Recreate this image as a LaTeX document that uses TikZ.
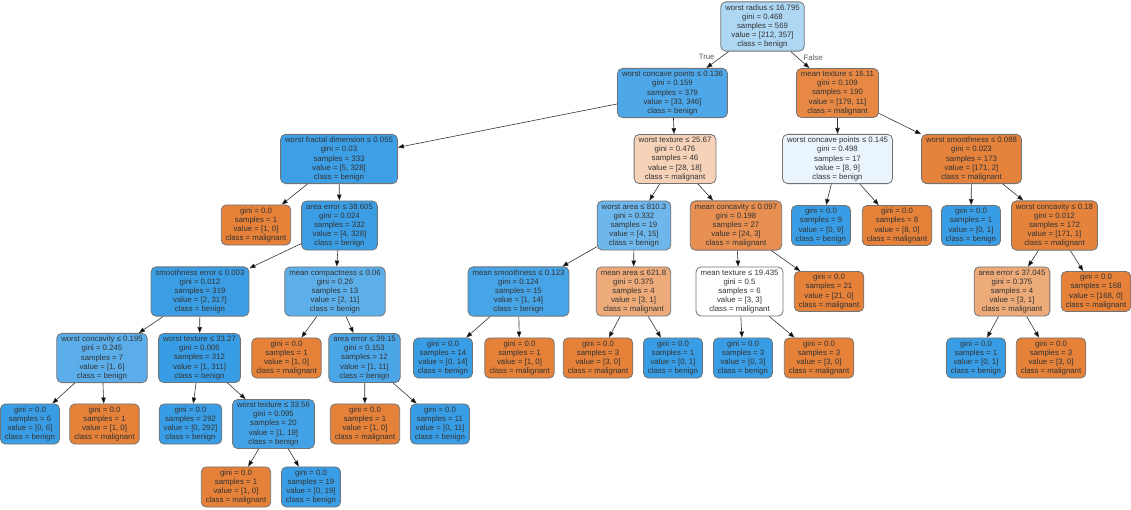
\documentclass[tikz,border=0pt]{standalone}
\usepackage{fontspec}
\setmainfont{Liberation Sans}
\usetikzlibrary{arrows.meta}
\definecolor{benign}{RGB}{57,157,229}
\definecolor{malig}{RGB}{229,129,57}

\begin{document}
\begin{tikzpicture}
  [x=1pt, y=-1pt, ->, >={Triangle[length=6pt,width=4.5pt]},
    box/.style={
      rectangle, rounded corners=5pt, draw=black!55, line width=0.8pt,
      align=center, font=\fontsize{7.8}{9.2}\selectfont, text=black!80,
      inner xsep=4.5pt, inner ysep=2.6pt
    },
    leafb/.style={box, fill=benign},
    leafm/.style={box, fill=malig},
    lbl/.style={font=\fontsize{7.8}{9.2}\selectfont, text=black!65, inner sep=1pt},
  ]
  \useasboundingbox (0,0) rectangle (1131,509);

  % Root and first split
  \node[box, fill=benign!41!white] (n0) at (762.5,26.5) {worst radius ≤ 16.795\\gini = 0.468\\samples = 569\\value = [212, 357]\\class = benign};
  \node[box, fill=benign!90!white] (n1) at (672.5,93) {worst concave points ≤ 0.136\\gini = 0.159\\samples = 379\\value = [33, 346]\\class = benign};
  \node[box, fill=malig!94!white] (n32) at (837.5,93) {mean texture ≤ 16.11\\gini = 0.109\\samples = 190\\value = [179, 11]\\class = malignant};

  % Left branch
  \node[box, fill=benign!98!white] (n2) at (339,159) {worst fractal dimension ≤ 0.055\\gini = 0.03\\samples = 333\\value = [5, 328]\\class = benign};
  \node[leafm] (n3) at (256,225) {gini = 0.0\\samples = 1\\value = [1, 0]\\class = malignant};
  \node[box, fill=benign!99!white] (n4) at (339.5,225.5) {area error ≤ 38.605\\gini = 0.024\\samples = 332\\value = [4, 328]\\class = benign};
  \node[box, fill=benign!99!white] (n5) at (200,291.5) {smoothness error ≤ 0.003\\gini = 0.012\\samples = 319\\value = [2, 317]\\class = benign};
  \node[box, fill=benign!83!white] (n6) at (102,358) {worst concavity ≤ 0.195\\gini = 0.245\\samples = 7\\value = [1, 6]\\class = benign};
  \node[leafb] (n7) at (30,424) {gini = 0.0\\samples = 6\\value = [0, 6]\\class = benign};
  \node[leafm] (n8) at (104.5,424) {gini = 0.0\\samples = 1\\value = [1, 0]\\class = malignant};
  \node[box, fill=benign] (n9) at (199.5,358) {worst texture ≤ 33.27\\gini = 0.006\\samples = 312\\value = [1, 311]\\class = benign};
  \node[leafb] (n10) at (190.5,424) {gini = 0.0\\samples = 292\\value = [0, 292]\\class = benign};
  \node[box, fill=benign!95!white] (n11) at (273.5,424) {worst texture ≤ 33.56\\gini = 0.095\\samples = 20\\value = [1, 19]\\class = benign};
  \node[leafm] (n12) at (236,487) {gini = 0.0\\samples = 1\\value = [1, 0]\\class = malignant};
  \node[leafb] (n13) at (311,487) {gini = 0.0\\samples = 19\\value = [0, 19]\\class = benign};
  \node[box, fill=benign!82!white] (n14) at (335,291.5) {mean compactness ≤ 0.06\\gini = 0.26\\samples = 13\\value = [2, 11]\\class = benign};
  \node[leafm] (n15) at (286.5,358) {gini = 0.0\\samples = 1\\value = [1, 0]\\class = malignant};
  \node[box, fill=benign!91!white] (n16) at (364.5,358) {area error ≤ 39.15\\gini = 0.153\\samples = 12\\value = [1, 11]\\class = benign};
  \node[leafm] (n17) at (365,424) {gini = 0.0\\samples = 1\\value = [1, 0]\\class = malignant};
  \node[leafb] (n18) at (440,424) {gini = 0.0\\samples = 11\\value = [0, 11]\\class = benign};

  % Middle branch
  \node[box, fill=malig!36!white] (n19) at (675,159) {worst texture ≤ 25.67\\gini = 0.476\\samples = 46\\value = [28, 18]\\class = malignant};
  \node[box, fill=benign!73!white] (n20) at (634,225.5) {worst area ≤ 810.3\\gini = 0.332\\samples = 19\\value = [4, 15]\\class = benign};
  \node[box, fill=benign!93!white] (n21) at (518.5,291.5) {mean smoothness ≤ 0.123\\gini = 0.124\\samples = 15\\value = [1, 14]\\class = benign};
  \node[leafb] (n22) at (443,358) {gini = 0.0\\samples = 14\\value = [0, 14]\\class = benign};
  \node[leafm] (n23) at (519.5,358) {gini = 0.0\\samples = 1\\value = [1, 0]\\class = malignant};
  \node[box, fill=malig!67!white] (n24) at (633.5,291.5) {mean area ≤ 621.8\\gini = 0.375\\samples = 4\\value = [3, 1]\\class = malignant};
  \node[leafm] (n25) at (598,358) {gini = 0.0\\samples = 3\\value = [3, 0]\\class = malignant};
  \node[leafb] (n26) at (673,358) {gini = 0.0\\samples = 1\\value = [0, 1]\\class = benign};
  \node[box, fill=malig!88!white] (n27) at (736,225.5) {mean concavity ≤ 0.097\\gini = 0.198\\samples = 27\\value = [24, 3]\\class = malignant};
  \node[box, fill=white] (n28) at (739.5,291.5) {mean texture ≤ 19.435\\gini = 0.5\\samples = 6\\value = [3, 3]\\class = malignant};
  \node[leafb] (n29) at (743,358) {gini = 0.0\\samples = 3\\value = [0, 3]\\class = benign};
  \node[leafm] (n30) at (819,358) {gini = 0.0\\samples = 3\\value = [3, 0]\\class = malignant};
  \node[leafm] (n31) at (829,291.5) {gini = 0.0\\samples = 21\\value = [21, 0]\\class = malignant};

  % Right branch
  \node[box, fill=benign!11!white] (n33) at (837.5,159) {worst concave points ≤ 0.145\\gini = 0.498\\samples = 17\\value = [8, 9]\\class = benign};
  \node[leafb] (n34) at (821,225.5) {gini = 0.0\\samples = 9\\value = [0, 9]\\class = benign};
  \node[leafm] (n35) at (897,225.5) {gini = 0.0\\samples = 8\\value = [8, 0]\\class = malignant};
  \node[box, fill=malig!99!white] (n36) at (971.5,159) {worst smoothness ≤ 0.088\\gini = 0.023\\samples = 173\\value = [171, 2]\\class = malignant};
  \node[leafb] (n37) at (971,225.5) {gini = 0.0\\samples = 1\\value = [0, 1]\\class = benign};
  \node[box, fill=malig!99!white] (n38) at (1054.5,225.5) {worst concavity ≤ 0.18\\gini = 0.012\\samples = 172\\value = [171, 1]\\class = malignant};
  \node[box, fill=malig!67!white] (n39) at (1012,291.5) {area error ≤ 37.045\\gini = 0.375\\samples = 4\\value = [3, 1]\\class = malignant};
  \node[leafb] (n40) at (976,358) {gini = 0.0\\samples = 1\\value = [0, 1]\\class = benign};
  \node[leafm] (n41) at (1051,358) {gini = 0.0\\samples = 3\\value = [3, 0]\\class = malignant};
  \node[leafm] (n42) at (1096,291.5) {gini = 0.0\\samples = 168\\value = [168, 0]\\class = malignant};

  % Edges between nodes
  \path[draw=black!80, line width=0.6pt]
  (n0) edge node[lbl, pos=0.35, left=5pt] (tt) {True} (n1)
       edge node[lbl, pos=0.35, right=5pt] (ff) {False} (n32)
  (n1) edge (n2)
       edge (n19)
  (n2) edge (n3)
       edge (n4)
  (n4) edge (n5)
       edge (n14)
  (n5) edge (n6)
       edge (n9)
  (n6) edge (n7)
       edge (n8)
  (n9) edge (n10)
       edge (n11)
  (n11) edge (n12)
        edge (n13)
  (n14) edge (n15)
        edge (n16)
  (n16) edge (n17)
        edge (n18)
  (n19) edge (n20)
        edge (n27)
  (n20) edge (n21)
        edge (n24)
  (n21) edge (n22)
        edge (n23)
  (n24) edge (n25)
        edge (n26)
  (n27) edge (n28)
        edge (n31)
  (n28) edge (n29)
        edge (n30)
  (n32) edge (n33)
        edge (n36)
  (n33) edge (n34)
        edge (n35)
  (n36) edge (n37)
        edge (n38)
  (n38) edge (n39)
        edge (n42)
  (n39) edge (n40)
        edge (n41);
\end{tikzpicture}
\end{document}
